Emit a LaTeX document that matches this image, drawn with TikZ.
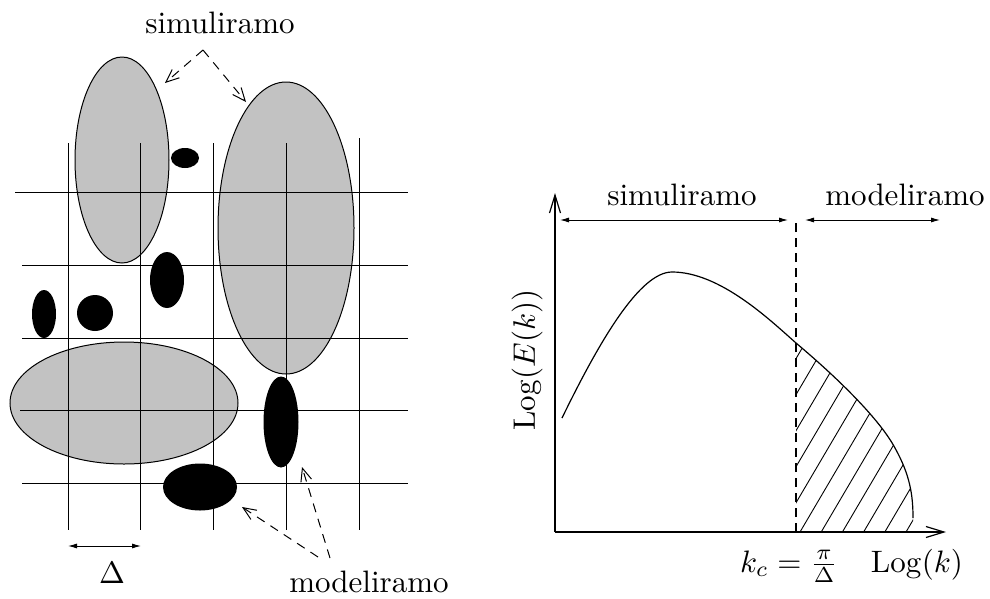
\documentclass[tikz,border=0pt]{standalone}
\usepackage{graphicx}
\usetikzlibrary{shapes.geometric,arrows.meta}
\newcommand{\biglbl}[1]{\scalebox{3.1}{#1}}
\begin{document}
\begin{tikzpicture}[x=1pt,y=-1pt,
  lbl/.style={font=\normalsize, inner sep=0pt},
  grid/.style={line width=1pt},
  graybl/.style={ellipse, draw, line width=1pt, fill=black!24, inner sep=0pt},
  blackbl/.style={ellipse, fill=black, inner sep=0pt},
  darr/.style={line width=1pt, dash pattern=on 9pt off 7pt, -{Straight Barb[length=13pt,width=11pt,line width=1pt]}},
  rng/.style={line width=0.9pt, {Latex[length=9pt,width=5pt]}-{Latex[length=9pt,width=5pt]}},
  axis/.style={line width=1.2pt, -{Straight Barb[length=18pt,width=11pt,line width=1.2pt]}},
  curve/.style={line width=1.2pt}]
\useasboundingbox (0,0) rectangle (990,598);

% ---------------- left panel ----------------
% gray (simulated) eddies
\node[graybl, minimum width=94pt, minimum height=206pt] (g1) at (122,160) {};
\node[graybl, minimum width=136pt, minimum height=292pt] (g2) at (286,228) {};
\node[graybl, minimum width=228pt, minimum height=122pt] (g3) at (124,403) {};

% grid
\foreach \x in {68,140,213,286} \draw[grid] (\x,143) -- (\x,530);
\draw[grid] (359,138) -- (359,530);
\draw[grid] (15,192) -- (408,192);
\draw[grid] (22,265) -- (408,265);
\draw[grid] (22,338) -- (408,338);
\draw[grid] (20,410) -- (408,410);
\draw[grid] (22,483) -- (408,483);

% black (modelled) eddies
\node[blackbl, minimum width=28pt, minimum height=20pt] (b1) at (185,158) {};
\node[blackbl, minimum width=34pt, minimum height=56pt] (b2) at (167,280) {};
\node[blackbl, minimum width=24pt, minimum height=48pt] (b3) at (44,314) {};
\node[blackbl, minimum width=36pt, minimum height=36pt] (b4) at (95,313) {};
\node[blackbl, minimum width=35pt, minimum height=91pt] (b5) at (281,422) {};
\node[blackbl, minimum width=74pt, minimum height=47pt] (b6) at (200,487) {};

% labels and arrows
\node[lbl, anchor=base] (sim1) at (220,33) {\biglbl{simuliramo}};
\coordinate (apex) at (203,50);
\coordinate (t1) at (165,83);
\coordinate (t2) at (246,102);
\draw[darr] (apex) -- (t1);
\draw[darr] (apex) -- (t2);

\node[lbl, anchor=base] (mod1) at (369,592) {\biglbl{modeliramo}};
\coordinate (s1) at (318,557);
\coordinate (s2) at (330,558);
\coordinate (t3) at (242,507);
\coordinate (t4) at (302,467);
\draw[darr] (s1) -- (t3);
\draw[darr] (s2) -- (t4);

\coordinate (d1) at (68,546);
\coordinate (d2) at (141,546);
\draw[rng] (d1) -- (d2);
\node[lbl, anchor=base] (delta) at (112,583) {\biglbl{$\Delta$}};

% ---------------- right panel ----------------
\coordinate (O) at (555,532);
\coordinate (ytop) at (555,193);
\coordinate (xend) at (946,532);
\draw[axis] (O) -- (ytop);
\draw[axis] (O) -- (xend);

% hatching
\begin{scope}
  \clip (796,0) rectangle (990,598);
  \clip (562,418) .. controls (600,340) and (640,272) .. (672,272)
        .. controls (720,272) and (770,320) .. (796,343)
        .. controls (840,380) and (880,420) .. (895,448)
        .. controls (910,475) and (913,495) .. (913,518)
        -- (913,532) -- (562,532) -- cycle;
  \foreach \k in {-9,...,6} {
    \draw[line width=0.9pt] ({800+21.2*\k},532) -- ({800+21.2*\k+130},{532-221});
  }
\end{scope}

% spectrum curve
\draw[curve] (562,418) .. controls (600,340) and (640,272) .. (672,272)
      .. controls (720,272) and (770,320) .. (796,343)
      .. controls (840,380) and (880,420) .. (895,448)
      .. controls (910,475) and (913,495) .. (913,518);

% cutoff
\coordinate (kc) at (796,532);
\coordinate (kctop) at (796,220);
\draw[line width=1.1pt, dash pattern=on 9pt off 6pt] (kc) -- (kctop);

% range arrows
\coordinate (r1) at (560,220);
\coordinate (r2) at (788,220);
\coordinate (r3) at (805,220);
\coordinate (r4) at (940,220);
\draw[rng] (r1) -- (r2);
\draw[rng] (r3) -- (r4);
\node[lbl, anchor=base] (sim2) at (682,205) {\biglbl{simuliramo}};
\node[lbl, anchor=base] (mod2) at (905,205) {\biglbl{modeliramo}};

\node[lbl, rotate=90] (ylab) at (527,360) {\biglbl{$\mathrm{Log}(E(k))$}};
\node[lbl, anchor=base] (kclab) at (789,572) {\biglbl{$k_c=\frac{\pi}{\Delta}$}};
\node[lbl, anchor=base] (xlab) at (917,572) {\biglbl{$\mathrm{Log}(k)$}};
\end{tikzpicture}
\end{document}
